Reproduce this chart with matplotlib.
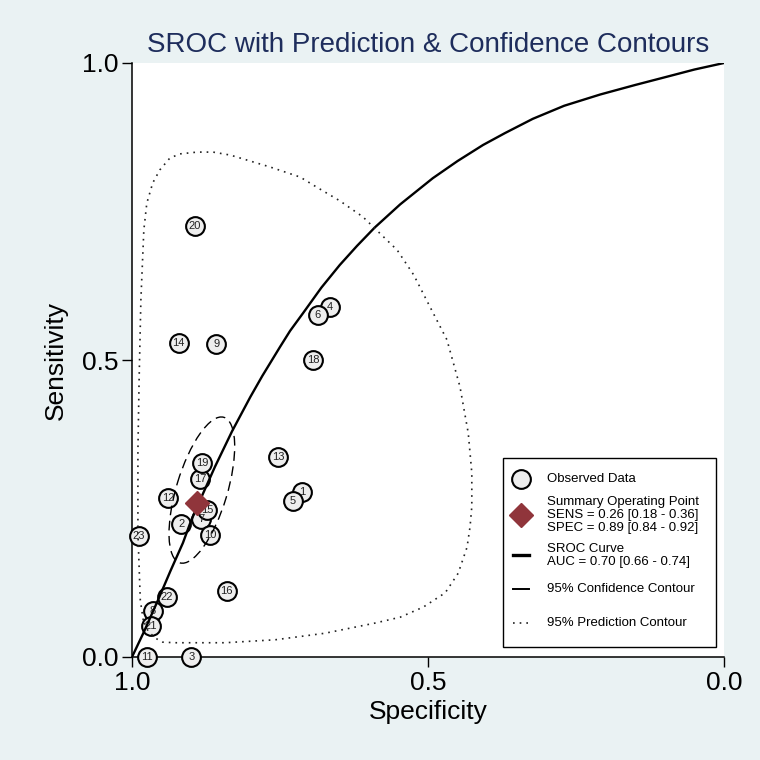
import matplotlib
matplotlib.use("Agg")
import matplotlib.pyplot as plt
from matplotlib.patches import Ellipse, Rectangle

plt.rcParams['font.family'] = ['Liberation Sans', 'DejaVu Sans']

# observed studies: id, specificity, sensitivity
study_id = [1, 2, 3, 4, 5, 6, 7, 8, 9, 10, 11, 12,
            13, 14, 15, 16, 17, 18, 19, 20, 21, 22, 23]
spec = [0.713, 0.917, 0.900, 0.666, 0.728, 0.686, 0.883, 0.965, 0.858, 0.868, 0.975, 0.939,
        0.753, 0.921, 0.873, 0.840, 0.885, 0.694, 0.882, 0.894, 0.968, 0.941, 0.988]
sens = [0.278, 0.224, 0.000, 0.589, 0.263, 0.576, 0.232, 0.077, 0.527, 0.205, 0.000, 0.268,
        0.337, 0.529, 0.247, 0.111, 0.300, 0.500, 0.327, 0.726, 0.052, 0.101, 0.204]

# summary operating point
sum_spec = 0.89
sum_sens = 0.26

# SROC curve (false positive rate, sensitivity)
sroc_fpr = [0.0, 0.02, 0.044, 0.065, 0.086, 0.10, 0.115, 0.14, 0.169, 0.20, 0.22, 0.25,
            0.267, 0.289, 0.32, 0.351, 0.38, 0.41, 0.453, 0.508, 0.55, 0.593, 0.63,
            0.677, 0.73, 0.791, 0.85, 0.904, 0.95, 1.0]
sroc_sens = [0.0, 0.042, 0.096, 0.145, 0.192, 0.230, 0.264, 0.320, 0.380, 0.438, 0.473, 0.522,
             0.549, 0.579, 0.622, 0.660, 0.692, 0.723, 0.762, 0.806, 0.835, 0.862, 0.882,
             0.906, 0.928, 0.947, 0.963, 0.977, 0.989, 1.0]
sroc_spec = [1 - f for f in sroc_fpr]

# 95% confidence region: centre, semi-axes, tilt
conf_center = (0.882, 0.281)
conf_axes = (0.128, 0.043)
conf_angle = 106.9

# 95% prediction region
pred_spec = [0.981, 0.986, 0.990, 0.990, 0.988, 0.985, 0.980, 0.975, 0.965, 0.953,
             0.936, 0.919, 0.890, 0.863, 0.834, 0.767, 0.716, 0.688, 0.649, 0.610,
             0.552, 0.524, 0.500, 0.468, 0.446, 0.432, 0.426, 0.426, 0.429, 0.434,
             0.449, 0.471, 0.508, 0.547, 0.590, 0.674, 0.758, 0.843, 0.927, 0.948,
             0.961, 0.973, 0.981]
pred_sens = [0.062, 0.096, 0.209, 0.348, 0.466, 0.601, 0.719, 0.764, 0.798, 0.820,
             0.840, 0.847, 0.850, 0.850, 0.845, 0.825, 0.808, 0.791, 0.768, 0.741,
             0.685, 0.643, 0.596, 0.534, 0.455, 0.377, 0.310, 0.253, 0.219, 0.185,
             0.141, 0.108, 0.084, 0.067, 0.057, 0.040, 0.029, 0.024, 0.024, 0.025,
             0.032, 0.044, 0.062]

legend_text = ["Observed Data",
               "Summary Operating Point\nSENS = 0.26 [0.18 - 0.36]\nSPEC = 0.89 [0.84 - 0.92]",
               "SROC Curve\nAUC = 0.70 [0.66 - 0.74]",
               "95% Confidence Contour",
               "95% Prediction Contour"]

bg = '#eaf2f3'
fig = plt.figure(figsize=(7.6, 7.6), dpi=100, facecolor=bg)
ax = fig.add_axes([132/760, 103/760, 592/760, 594/760])
ax.set_facecolor('white')

ax.plot(spec, sens, 'o', ms=13.5, mfc='#eeeeee', mec='black', mew=1.5,
        clip_on=False, zorder=3)
for i, x, y in zip(study_id, spec, sens):
    ax.text(x, y, str(i), fontsize=8, ha='center', va='center',
            color='#222222', zorder=3.5, clip_on=False)

ax.plot(sroc_spec, sroc_sens, color='black', lw=1.7, zorder=4,
        solid_joinstyle='round')
ax.add_patch(Ellipse(conf_center, 2*conf_axes[0], 2*conf_axes[1], angle=conf_angle,
                     fill=False, ec='black', lw=1.0, ls=(0, (7, 4)), zorder=4))
ax.plot(pred_spec, pred_sens, color='#222222', lw=1.2, ls=(0, (1.0, 3.0)), zorder=4)
ax.plot(sum_spec, sum_sens, 'D', ms=12, color='#90353b', zorder=5)

ax.set_xlim(1, 0)
ax.set_ylim(0, 1)
ax.set_xticks([1.0, 0.5, 0.0])
ax.set_yticks([0.0, 0.5, 1.0])
ax.set_xticklabels(['1.0', '0.5', '0.0'])
ax.set_yticklabels(['0.0', '0.5', '1.0'])
ax.tick_params(direction='out', length=7, width=1, labelsize=19, pad=3)
for s in ['top', 'right']:
    ax.spines[s].set_visible(False)
for s in ['left', 'bottom']:
    ax.spines[s].set_linewidth(1.1)
ax.set_xlabel('Specificity', fontsize=19, labelpad=4)
ax.set_ylabel('Sensitivity', fontsize=19, labelpad=10)
ax.set_title('SROC with Prediction & Confidence Contours', fontsize=20,
             color='#1e2d5c', pad=8)

# legend box, drawn by hand in axes fractions
T = ax.transAxes
ax.add_patch(Rectangle((0.627, 0.017), 0.359, 0.318, transform=T, fill=False,
                       ec='black', lw=1.0, zorder=6, clip_on=False))
hx = 0.657
tx = 0.701
rows = [0.300, 0.239, 0.171, 0.114, 0.057]
ax.plot(hx, rows[0], 'o', ms=13.5, mfc='#eeeeee', mec='black', mew=1.5, transform=T, zorder=7)
ax.plot(hx, rows[1], 'D', ms=12, color='#90353b', transform=T, zorder=7)
ax.plot([hx-0.014, hx+0.014], [rows[2]]*2, color='black', lw=2.4, transform=T, zorder=7)
ax.plot([hx-0.014, hx+0.014], [rows[3]]*2, color='black', lw=1.4, transform=T, zorder=7)
ax.plot([hx-0.014, hx+0.014], [rows[4]]*2, color='#222222', lw=1.2, ls=(0, (1.0, 3.0)),
        transform=T, zorder=7)
for y, t in zip(rows, legend_text):
    ax.text(tx, y, t, fontsize=9.5, ha='left', va='center', linespacing=1.15,
            transform=T, zorder=7)

fig.savefig('out.png', dpi=100, facecolor=bg)
